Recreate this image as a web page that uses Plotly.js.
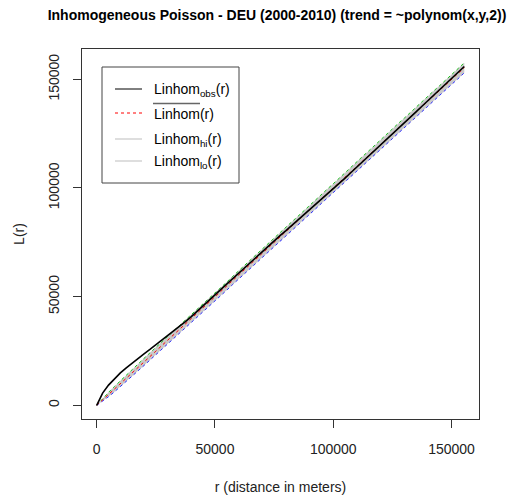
<!DOCTYPE html>
<html>
<head>
<meta charset="utf-8">
<script src="https://cdn.plot.ly/plotly-3.0.1.min.js"></script>
<style>html,body{margin:0;padding:0;background:#fff;}#chart{width:531px;height:497px;}</style>
</head>
<body>
<div id="chart"></div>
<script>
// distance r (metres)
const rVals = [0,2500,5000,7500,10000,12500,15000,17500,20000,22500,25000,27500,30000,32500,35000,37500,40000,42500,45000,47500,50000,52500,55000,57500,60000,62500,65000,67500,70000,72500,75000,77500,80000,82500,85000,87500,90000,92500,95000,97500,100000,102500,105000,107500,110000,112500,115000,117500,120000,122500,125000,127500,130000,132500,135000,137500,140000,142500,145000,147500,150000,152500,155000,155400];
// observed Linhom
const obsVals = [0,5600,9300,12200,14900,17200,19500,21700,23700,25700,27800,29900,32000,34000,36300,38500,40800,43200,45700,48200,50800,53300,55800,58200,60700,63200,65700,68300,70900,73300,75700,78100,80400,82800,85100,87400,89800,92300,94600,97100,99400,101900,104500,107100,109600,112200,114700,117300,119800,122300,124800,127400,129900,132500,135000,137600,140100,142600,145200,147700,150300,152900,155500,155900];
// mean of simulated Linhom
const meanVals = [0,2450,4950,7400,9950,12450,14900,17400,19950,22450,24900,27450,29950,32400,34950,37450,39900,42450,44950,47400,49950,52450,54900,57450,59950,62400,64950,67450,69900,72450,74950,77400,79950,82450,84900,87450,89950,92400,94950,97450,99900,102450,104950,107400,109950,112450,114900,117450,119950,122400,124950,127450,129900,132450,134950,137400,139950,142450,144900,147450,149950,152400,154950,155350];
// upper envelope
const hiVals = [0,3150,5950,8650,11350,13950,16500,19000,21600,24050,26550,29100,31650,34100,36700,39250,41700,44300,46800,49200,51800,54300,56700,59350,61900,64300,66900,69400,71900,74450,76950,79400,81950,84450,86900,89500,92000,94400,97000,99500,101950,104550,107050,109500,112100,114600,117050,119650,122150,124600,127200,129700,132100,134700,137200,139600,142200,144700,147100,149700,152200,154600,157200,157600];
// lower envelope
const loVals = [0,1800,3950,6200,8550,10900,13300,15800,18300,20800,23250,25800,28300,30700,33150,35650,38100,40650,43100,45550,48100,50650,53000,55600,58050,60500,63000,65550,67900,70500,72950,75400,77950,80400,82850,85400,87900,90350,92900,95350,97800,100350,102800,105250,107800,110300,112650,115250,117700,120150,122700,125200,127600,130150,132650,135100,137600,140150,142500,145100,147600,150000,152600,153000];
// axis ticks
const tickVals = [0,50000,100000,150000];
const tickText = ["0","50000","100000","150000"];
// legend labels
const legendLabels = ["Linhom<sub>obs</sub>(r)","Linhom(r)","Linhom<sub>hi</sub>(r)","Linhom<sub>lo</sub>(r)"];

const FONT = "Liberation Sans, Arial, sans-serif";

const traces = [
  {x: rVals, y: loVals, type: "scatter", mode: "lines",
   line: {color: "#2a2aff", width: 1, dash: "dot"}, hoverinfo: "skip"},
  {x: rVals, y: hiVals, type: "scatter", mode: "lines", fill: "tonexty",
   fillcolor: "#c9c9c9",
   line: {color: "#1fc21f", width: 1, dash: "dot"}, hoverinfo: "skip"},
  {x: rVals, y: meanVals, type: "scatter", mode: "lines",
   line: {color: "#ff0000", width: 1, dash: "3px,3px"}},
  {x: rVals, y: obsVals, type: "scatter", mode: "lines",
   line: {color: "#000000", width: 1.6}}
];

// pixel -> paper helpers (plot area 82..479 x, 49..419 y)
const px = v => (v - 82) / 397;
const py = v => (419 - v) / 370;

const legY = [89, 113, 139, 161];
const legColors = ["#000000", "#ff0000", "#bdbdbd", "#bdbdbd"];
const legDash = ["solid", "3px,3px", "solid", "solid"];

const shapes = [
  {type: "rect", xref: "paper", yref: "paper", x0: px(102), x1: px(239), y0: py(183), y1: py(67),
   line: {color: "#444", width: 1}, fillcolor: "rgba(0,0,0,0)"},
  {type: "line", xref: "paper", yref: "paper", x0: px(153), x1: px(200), y0: py(103.5), y1: py(103.5),
   line: {color: "#666", width: 1.5}}
];
legY.forEach((yy, i) => {
  shapes.push({type: "line", xref: "paper", yref: "paper", x0: px(115), x1: px(142), y0: py(yy), y1: py(yy),
    line: {color: legColors[i], width: 1, dash: legDash[i]}});
});

const annotations = legendLabels.map((t, i) => ({
  xref: "paper", yref: "paper", x: px(152), y: py(legY[i] + 1), xanchor: "left", yanchor: "middle",
  text: t, showarrow: false, font: {family: FONT, size: 14, color: "#000"}
}));

const layout = {
  width: 531, height: 497,
  margin: {l: 82, r: 52, t: 49, b: 78},
  paper_bgcolor: "#fff", plot_bgcolor: "#fff",
  showlegend: false,
  font: {family: FONT, size: 14, color: "#222"},
  title: {text: "<b>Inhomogeneous Poisson - DEU (2000-2010) (trend = ~polynom(x,y,2))</b>",
    font: {family: FONT, size: 14, color: "#000"},
    xref: "container", x: 277/531, xanchor: "center",
    yref: "container", y: 1 - 15/497, yanchor: "middle"},
  xaxis: {range: [-6216, 161616], tickmode: "array", tickvals: tickVals, ticktext: tickText,
    ticks: "outside", ticklen: 8, tickcolor: "#333", showgrid: false, zeroline: false,
    showline: true, mirror: true, linecolor: "#333", linewidth: 1, ticklabelstandoff: 9,
    tickfont: {family: FONT, size: 14, color: "#222"},
    title: {text: "r (distance in meters)", font: {family: FONT, size: 14, color: "#222"}, standoff: 26}},
  yaxis: {range: [-6305, 163940], tickmode: "array", tickvals: tickVals, ticktext: tickText,
    ticks: "outside", ticklen: 8, tickcolor: "#333", showgrid: false, zeroline: false,
    showline: true, mirror: true, linecolor: "#333", linewidth: 1, tickangle: -90, ticklabelstandoff: 8,
    tickfont: {family: FONT, size: 14, color: "#222"},
    title: {text: "L(r)", font: {family: FONT, size: 14, color: "#222"}, standoff: 18}},
  shapes: shapes,
  annotations: annotations
};

Plotly.newPlot("chart", traces, layout, {displayModeBar: false, staticPlot: true});
</script>
</body>
</html>
